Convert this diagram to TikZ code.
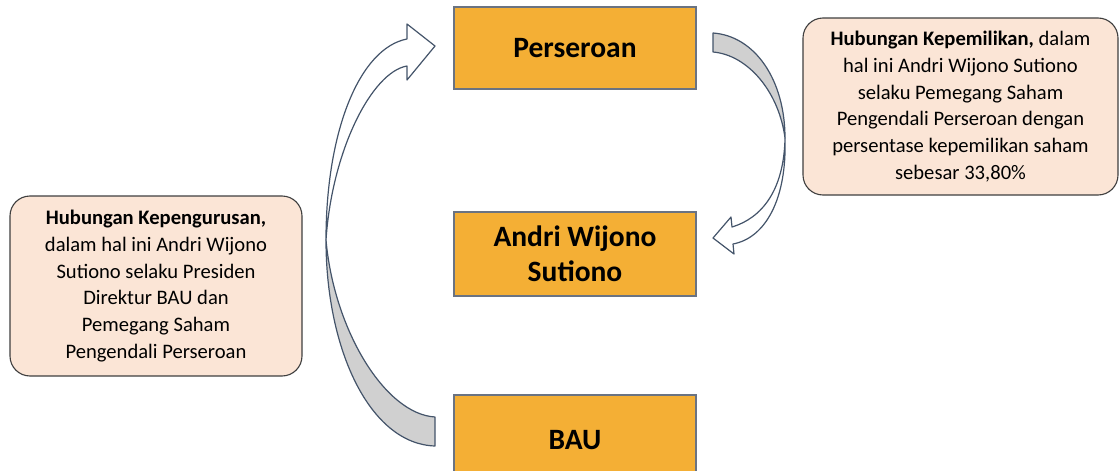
\documentclass[tikz,border=0pt]{standalone}
\usepackage{fontspec}
\setmainfont{Carlito}
\definecolor{boxfill}{HTML}{F4AF35}
\definecolor{boxline}{HTML}{6A7382}
\definecolor{notefill}{HTML}{FBE5D6}
\definecolor{noteline}{HTML}{3F3F3F}
\definecolor{arrline}{HTML}{44546A}
\definecolor{arrgray}{HTML}{D0D0D0}
\begin{document}
\begin{tikzpicture}[x=1pt,y=-1pt,
  entity/.style={draw=boxline,line width=1.4pt,fill=boxfill,minimum width=242pt,font=\fontsize{29.5}{35}\selectfont\bfseries,align=center,inner sep=0pt},
  note/.style={draw=noteline,line width=1.1pt,fill=notefill,rounded corners=20pt,align=center,inner sep=0pt,font=\fontsize{20.6}{26.8}\selectfont},
  front/.style={draw=arrline,line width=1.2pt,fill=white,line join=round},
  back/.style={draw=arrline,line width=1.2pt,fill=arrgray,line join=round}]
\useasboundingbox (0,0) rectangle (1120,471);
% boxes
\node[entity,minimum height=82pt] (per) at (575,48) {Perseroan};
\node[entity,minimum height=84pt] (andri) at (575,254) {Andri Wijono\\Sutiono};
\node[entity,minimum height=90pt] (bau) at (575,440) {BAU};
% notes
\node[note,minimum width=292pt,minimum height=180pt] (lnote) at (156,286)
 {\textbf{Hubungan Kepengurusan,}\\dalam hal ini Andri Wijono\\Sutiono selaku Presiden\\Direktur BAU dan\\Pemegang Saham\\Pengendali Perseroan};
\node[note,minimum width=315pt,minimum height=177pt] (rnote) at (960.5,106.5)
 {\textbf{Hubungan Kepemilikan,} dalam\\hal ini Andri Wijono Sutiono\\selaku Pemegang Saham\\Pengendali Perseroan dengan\\persentase kepemilikan saham\\sebesar 33,80\%};
% left curved arrow (BAU -> Perseroan)
\coordinate (lc) at (326,240);
\coordinate (ltip) at (435,46);
\draw[back] (lc) .. controls (326,350) and (370,444) .. (435,446)
  -- (435,417) .. controls (385,414) and (334,330) .. (lc) -- cycle;
\draw[front] (lc) .. controls (326,130) and (360,48) .. (407,39)
  -- (407,24) -- (ltip) -- (407,80) -- (407,66)
  .. controls (372,72) and (332,150) .. (lc) -- cycle;
% right curved arrow (Perseroan -> Andri)
\coordinate (rc) at (785,138);
\coordinate (rtip) at (713,238);
\draw[back] (rc) .. controls (785,80) and (755,36) .. (713,33)
  -- (713,52) .. controls (748,55) and (779,92) .. (rc) -- cycle;
\draw[front] (rc) .. controls (787,200) and (765,238) .. (733,244)
  -- (734,254) -- (rtip) -- (731,217) -- (732,227)
  .. controls (762,218) and (784,190) .. (rc) -- cycle;
\end{tikzpicture}
\end{document}
